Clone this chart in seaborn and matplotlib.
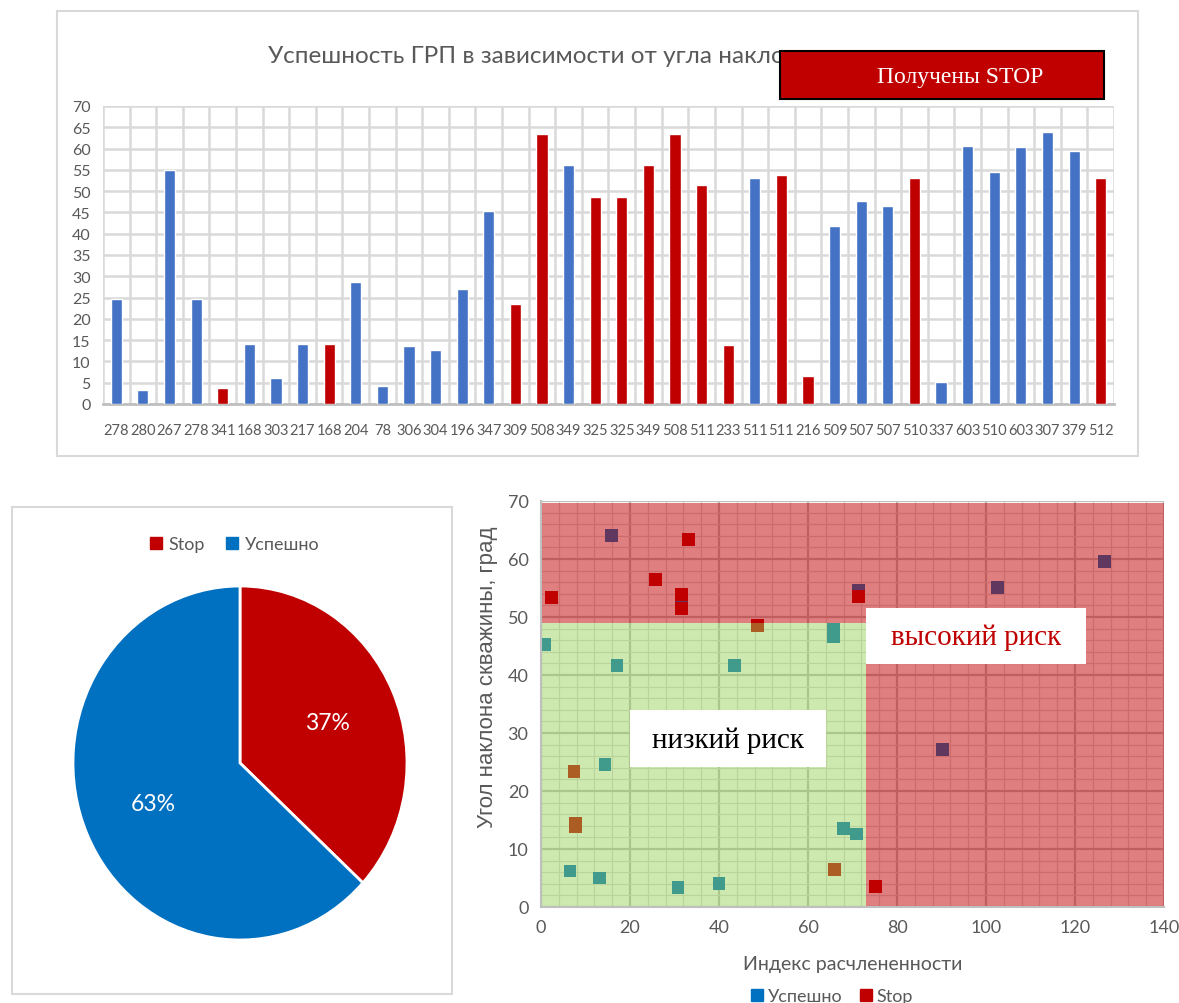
import numpy as np
import pandas as pd
import matplotlib
matplotlib.use("Agg")
import matplotlib.pyplot as plt
from matplotlib.patches import Rectangle
from matplotlib.lines import Line2D
import seaborn as sns

sns.set_theme(style="white")
plt.rcParams["font.family"] = ["Lato", "DejaVu Sans"]

# ---------------- data ----------------
# wells (labelled by pad/cluster number) with the well inclination angle, deg
well_ids = ["278", "280", "267", "278", "341", "168", "303", "217", "168", "204",
            "78", "306", "304", "196", "347", "309", "508", "349", "325", "325",
            "349", "508", "511", "233", "511", "511", "216", "509", "507", "507",
            "510", "337", "603", "510", "603", "307", "379", "512"]
well_angles = [24.7, 3.4, 55.0, 24.7, 3.7, 14.2, 6.1, 14.2, 14.2, 28.6,
               4.3, 13.6, 12.7, 27.1, 45.3, 23.5, 63.4, 56.2, 48.7, 48.7,
               56.2, 63.4, 51.4, 13.9, 53.2, 53.8, 6.6, 41.8, 47.7, 46.6,
               53.2, 5.2, 60.7, 54.4, 60.4, 64.0, 59.5, 53.2]
well_outcome = ["Успешно", "Успешно", "Успешно", "Успешно", "Stop", "Успешно",
                "Успешно", "Успешно", "Stop", "Успешно", "Успешно", "Успешно",
                "Успешно", "Успешно", "Успешно", "Stop", "Stop", "Успешно",
                "Stop", "Stop", "Stop", "Stop", "Stop", "Stop", "Успешно",
                "Stop", "Stop", "Успешно", "Успешно", "Успешно", "Stop",
                "Успешно", "Успешно", "Успешно", "Успешно", "Успешно",
                "Успешно", "Stop"]

pie_labels = ["Stop", "Успешно"]
pie_counts = [well_outcome.count("Stop"), well_outcome.count("Успешно")]

# dissection index vs inclination angle
ok_index = [15.8, 31.5, 71.3, 102.5, 126.6, 90.2, 65.8, 65.8, 0.9, 17.1,
            43.4, 14.4, 67.9, 70.9, 6.5, 13.1, 30.8, 40.0]
ok_angle = [64.1, 53.1, 54.6, 55.1, 59.5, 27.2, 47.8, 46.6, 45.3, 41.7,
            41.6, 24.5, 13.6, 12.6, 6.2, 5.0, 3.4, 4.1]
stop_index = [33.1, 2.3, 25.8, 31.5, 31.5, 71.3, 48.6, 7.4, 7.8, 7.8, 66.0, 75.2]
stop_angle = [63.4, 53.3, 56.4, 53.9, 51.5, 53.5, 48.5, 23.4, 14.4, 13.9, 6.5, 3.6]

# ---------------- styling ----------------
RED = "#c00000"
BAR_BLUE = "#4472c4"
BLUE = "#0070c0"
GREEN = "#92d050"
TXT = "#595959"
GRID = "#d9d9d9"
SERIF = ["Liberation Serif", "DejaVu Serif"]

W, H = 1179, 1004
fig = plt.figure(figsize=(W / 100, H / 100), dpi=100)


def box(x0, y0, x1, y1):
    """Figure-fraction rectangle from pixel corners (top-left origin)."""
    return [x0 / W, 1 - y1 / H, (x1 - x0) / W, (y1 - y0) / H]


def frame(x0, y0, x1, y1, **kw):
    b = box(x0, y0, x1, y1)
    fig.patches.append(Rectangle((b[0], b[1]), b[2], b[3], transform=fig.transFigure, **kw))


# ---------------- bar chart ----------------
frame(57, 12, 1138, 457, fill=False, ec=GRID, lw=1.5)
ax1 = fig.add_axes(box(103, 107, 1114, 405))
bars = pd.DataFrame({"pos": np.arange(len(well_ids)), "angle": well_angles,
                     "outcome": well_outcome})
sns.barplot(data=bars, x="pos", y="angle", hue="outcome",
            palette={"Успешно": BAR_BLUE, "Stop": RED}, dodge=False,
            width=0.42, saturation=1, legend=False, ax=ax1, zorder=3)
ax1.set_xlim(-0.5, len(well_ids) - 0.5)
ax1.set_ylim(0, 70)
ax1.set_yticks(np.arange(0, 71, 5))
ax1.set_xticks(np.arange(len(well_ids)))
ax1.set_xticklabels(well_ids, fontsize=10.5, color=TXT)
ax1.set_xticks(np.arange(-0.5, len(well_ids), 1), minor=True)
ax1.tick_params(axis="y", length=0, pad=9, labelsize=11.5, labelcolor=TXT)
ax1.tick_params(axis="x", which="both", length=0, pad=14)
ax1.set_xlabel("")
ax1.set_ylabel("")
ax1.yaxis.grid(True, color=GRID, lw=1.8)
ax1.xaxis.grid(True, which="minor", color=GRID, lw=1.8)
ax1.xaxis.grid(False, which="major")
ax1.set_axisbelow(True)
for s in ("left", "right", "top"):
    ax1.spines[s].set_visible(False)
ax1.spines["bottom"].set_color("#bfbfbf")
ax1.spines["bottom"].set_linewidth(2)

fig.text(599 / W, 1 - 57 / H, "Успешность ГРП в зависимости от угла наклона скважины",
         ha="center", va="center", fontsize=17.5, color=TXT)
frame(780, 52, 1104, 100, fc=RED, ec="black", lw=1.5, zorder=5)
fig.text(960 / W, 1 - 77 / H, "Получены STOP", ha="center", va="center",
         family=SERIF, fontsize=17, color="white", zorder=6)

# ---------------- pie chart ----------------
frame(12, 508, 452, 995, fill=False, ec=GRID, lw=1.5)
ax2 = fig.add_axes(box(73, 587, 407, 941))
ax2.pie(pie_counts, colors=[RED, BLUE], startangle=90, counterclock=False,
        autopct="%1.0f%%", pctdistance=0.57,
        wedgeprops=dict(edgecolor="white", linewidth=2),
        textprops=dict(color="white", fontsize=16.5))
ax2.set_aspect("auto")
ax2.set_xlim(-1.0, 1.0)
ax2.set_ylim(-1.0, 1.0)
pie_handles = [Line2D([], [], marker="s", ls="", color=c, markersize=8)
               for c in (RED, BLUE)]
fig.legend(pie_handles, pie_labels, loc="center", bbox_to_anchor=(235 / W, 1 - 545 / H),
           ncol=2, frameon=False, handlelength=0.6, handletextpad=0.4,
           columnspacing=1.2, fontsize=13, labelcolor=TXT)

# ---------------- scatter: risk zones ----------------
ax3 = fig.add_axes(box(541, 502, 1164, 908))
pts = pd.DataFrame({
    "index": ok_index + stop_index,
    "angle": ok_angle + stop_angle,
    "outcome": ["Успешно"] * len(ok_index) + ["Stop"] * len(stop_index),
})
sns.scatterplot(data=pts, x="index", y="angle", hue="outcome",
                palette={"Успешно": BLUE, "Stop": RED}, marker="s", s=85,
                linewidth=0, legend=False, ax=ax3, zorder=2)
ax3.set_xlim(0, 140)
ax3.set_ylim(0, 70)
ax3.set_xticks(np.arange(0, 141, 20))
ax3.set_yticks(np.arange(0, 71, 10))
ax3.set_xticks(np.arange(0, 141, 4), minor=True)
ax3.set_yticks(np.arange(0, 71, 2), minor=True)
ax3.grid(True, which="major", color="#bfbfbf", lw=1.6)
ax3.grid(True, which="minor", color=GRID, lw=0.9)
ax3.set_axisbelow(True)

# shaded zones: high risk (L-shape) and low risk
ax3.add_patch(Rectangle((0, 49), 140, 20.6, fc=RED, alpha=0.5, lw=0, zorder=3))
ax3.add_patch(Rectangle((73, 0), 67, 49, fc=RED, alpha=0.5, lw=0, zorder=3))
ax3.add_patch(Rectangle((0, 0), 73, 49, fc=GREEN, alpha=0.45, lw=0, zorder=3))

ax3.add_patch(Rectangle((73.0, 41.9), 49.5, 9.7, fc="white", lw=0, zorder=5))
ax3.text(97.75, 46.6, "высокий риск", ha="center", va="center", family=SERIF,
         fontsize=21, color=RED, zorder=6)
ax3.add_patch(Rectangle((20.0, 24.1), 44.0, 9.9, fc="white", lw=0, zorder=5))
ax3.text(42.0, 28.9, "низкий риск", ha="center", va="center", family=SERIF,
         fontsize=21, color="black", zorder=6)

for s in ("right", "top"):
    ax3.spines[s].set_visible(False)
for s in ("left", "bottom"):
    ax3.spines[s].set_color("#bfbfbf")
    ax3.spines[s].set_linewidth(1.5)
    ax3.spines[s].set_zorder(4)
ax3.tick_params(which="major", length=4, width=1.2, color="#bfbfbf", pad=5,
                labelsize=13, labelcolor=TXT)
ax3.tick_params(which="minor", length=0)
ax3.set_xlabel("Индекс расчлененности", fontsize=14, color=TXT, labelpad=14)
ax3.set_ylabel("Угол наклона скважины, град", fontsize=16, color=TXT,
               family=["Liberation Sans", "DejaVu Sans"])
ax3.yaxis.set_label_coords(-0.069, 0.569)

sc_handles = [Line2D([], [], marker="s", ls="", color=c, markersize=9)
              for c in (BLUE, RED)]
fig.legend(sc_handles, ["Успешно", "Stop"], loc="center",
           bbox_to_anchor=(832 / W, 1 - 997 / H), ncol=2, frameon=False,
           handlelength=0.6, handletextpad=0.3, columnspacing=1.0,
           fontsize=13, labelcolor=TXT)

fig.savefig("out.png", dpi=100)
